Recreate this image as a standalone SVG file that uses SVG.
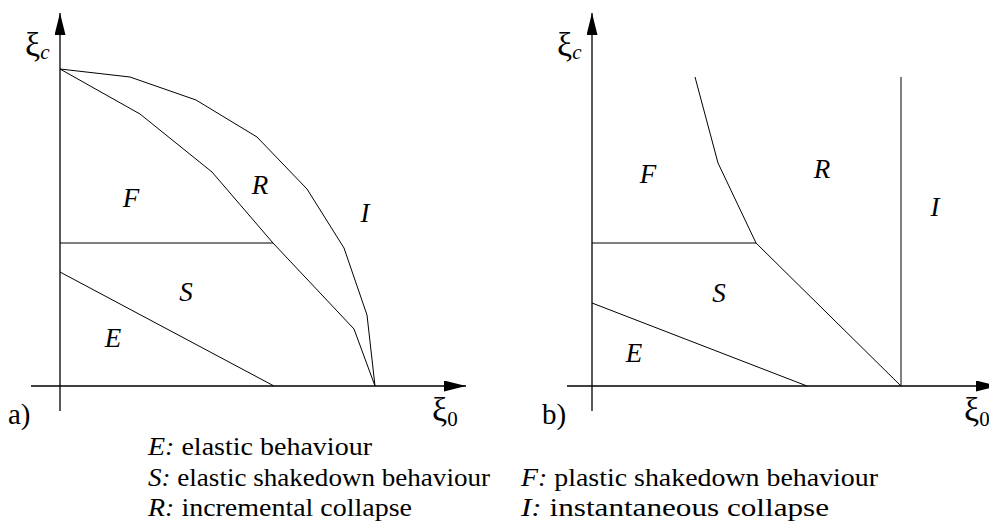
<svg xmlns="http://www.w3.org/2000/svg" width="989" height="523" viewBox="0 0 989 523">
<style>
  text { font-family: "Liberation Serif", "DejaVu Serif", serif; fill: #000; }
  .lbl { font-size: 27px; font-style: italic; text-anchor: middle; }
  .leg { font-size: 25px; }
  .it { font-style: italic; }
  .xi { font-size: 34px; }
  .sub { font-size: 21px; }
  .axis { stroke: #000; stroke-width: 1.3; fill: none; }
  .line { stroke: #000; stroke-width: 1; fill: none; stroke-linejoin: round; }
  .tag { font-size: 29px; }
</style>
<defs>
  <marker id="arr" markerUnits="userSpaceOnUse" markerWidth="24" markerHeight="12" refX="22" refY="5.5" orient="auto">
    <path d="M0,0 L22,5.5 L0,11 Z" fill="#000"/>
  </marker>
</defs>
<rect width="989" height="523" fill="#fff"/>

<!-- Panel a -->
<g id="panel-a">
  <g id="a-axes">
    <line class="axis" x1="31" y1="386" x2="466" y2="386" marker-end="url(#arr)"/>
    <line class="axis" x1="60" y1="411" x2="60" y2="13" marker-end="url(#arr)"/>
    <text x="25" y="56" class="xi">ξ<tspan class="sub it" dy="3">c</tspan></text>
    <text x="432" y="421" class="xi">ξ<tspan class="sub" dy="5">0</tspan></text>
    <text x="8" y="424" class="tag">a)</text>
  </g>
  <g id="a-connectors">
    <polyline class="line" points="60,69 130,77 196,100 257,137 307,189 344,248 367,315 375,386"/>
    <polyline class="line" points="60,69 140,114 212,172 273,243 354,329 375,386"/>
    <line class="line" x1="60" y1="243" x2="273" y2="243"/>
    <line class="line" x1="60" y1="272" x2="274" y2="386"/>
  </g>
  <g id="a-F"><text class="lbl" x="131" y="207">F</text></g>
  <g id="a-R"><text class="lbl" x="260" y="194">R</text></g>
  <g id="a-I"><text class="lbl" x="365" y="222">I</text></g>
  <g id="a-S"><text class="lbl" x="186" y="301">S</text></g>
  <g id="a-E"><text class="lbl" x="113" y="347">E</text></g>
</g>

<!-- Panel b -->
<g id="panel-b">
  <g id="b-axes">
    <line class="axis" x1="567" y1="386" x2="998" y2="386" marker-end="url(#arr)"/>
    <line class="axis" x1="592" y1="411" x2="592" y2="13" marker-end="url(#arr)"/>
    <text x="557" y="56" class="xi">ξ<tspan class="sub it" dy="3">c</tspan></text>
    <text x="964" y="421" class="xi">ξ<tspan class="sub" dy="5">0</tspan></text>
    <text x="542" y="424" class="tag">b)</text>
  </g>
  <g id="b-connectors">
    <polyline class="line" points="695,77 718,163 756,243 901,386"/>
    <line class="line" x1="901" y1="77" x2="901" y2="386"/>
    <line class="line" x1="592" y1="243" x2="756" y2="243"/>
    <line class="line" x1="592" y1="303" x2="807" y2="386"/>
  </g>
  <g id="b-F"><text class="lbl" x="648" y="183">F</text></g>
  <g id="b-R"><text class="lbl" x="822" y="178">R</text></g>
  <g id="b-I"><text class="lbl" x="935" y="216">I</text></g>
  <g id="b-S"><text class="lbl" x="719" y="302">S</text></g>
  <g id="b-E"><text class="lbl" x="634" y="362">E</text></g>
</g>

<!-- Legend -->
<g id="legend">
  <text class="leg" x="148" y="455" textLength="224" lengthAdjust="spacingAndGlyphs"><tspan class="it">E:</tspan> elastic behaviour</text>
  <text class="leg" x="148" y="486" textLength="342" lengthAdjust="spacingAndGlyphs"><tspan class="it">S:</tspan> elastic shakedown behaviour</text>
  <text class="leg" x="148" y="516" textLength="264" lengthAdjust="spacingAndGlyphs"><tspan class="it">R:</tspan> incremental collapse</text>
  <text class="leg" x="521" y="486" textLength="357" lengthAdjust="spacingAndGlyphs"><tspan class="it">F:</tspan> plastic shakedown behaviour</text>
  <text class="leg" x="521" y="516" textLength="308" lengthAdjust="spacingAndGlyphs"><tspan class="it">I:</tspan> instantaneous collapse</text>
</g>
</svg>
